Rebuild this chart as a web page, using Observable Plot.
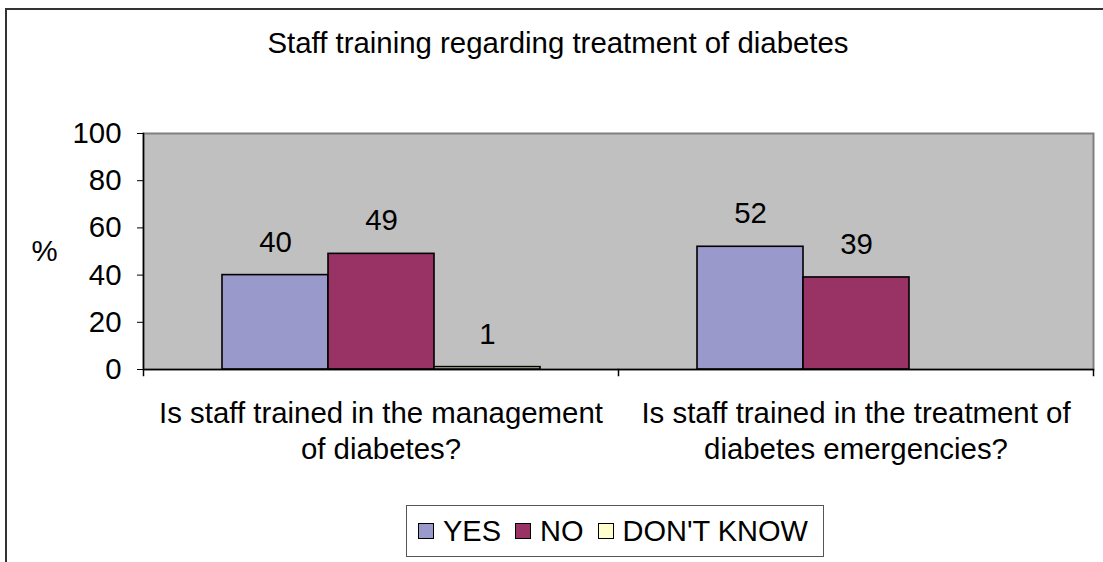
<!DOCTYPE html>
<html>
<head>
<meta charset="utf-8">
<script src="https://cdn.jsdelivr.net/npm/d3@7"></script>
<script src="https://cdn.jsdelivr.net/npm/@observablehq/plot@0.6"></script>
<style>
  html, body { margin: 0; padding: 0; background: #fff; overflow: hidden; }
  body { font-family: "Liberation Sans", Arial, sans-serif; position: relative; width: 1103px; height: 562px; }
  #outer { position: absolute; left: 5px; top: 8px; width: 2000px; height: 2000px;
           border-top: 2px solid #333; border-left: 2px solid #333; pointer-events: none; }
  #title { box-sizing: border-box; height: 100px; padding-top: 26px; margin-left: 13px;
           text-align: center; font-size: 29.4px; line-height: 34px; color: #000; }
  #chart svg { display: block; }
  #legend { box-sizing: border-box; margin-top: 25px; margin-left: 406px; width: 418px; height: 52px;
            border: 1px solid #555; display: flex; align-items: center; padding-left: 11px;
            font-size: 29px; color: #000; background: #fff; }
  .item { display: flex; align-items: center; margin-right: 14px; }
  .sw { box-sizing: border-box; width: 16px; height: 16px; border: 1.5px solid #000; margin-right: 9px; }
</style>
</head>
<body>
<div id="outer"></div>
<div id="title"></div>
<div id="chart"></div>
<div id="legend"></div>
<script>
// ---- data ----
const title = "Staff training regarding treatment of diabetes";
const categories = [
  "Is staff trained in the management\nof diabetes?",
  "Is staff trained in the treatment of\ndiabetes emergencies?"
];
const seriesNames = ["YES", "NO", "DON'T KNOW"];
const yesValues = [40, 52];
const noValues = [49, 39];
const dontKnowValues = [1, null];
const yTicks = [0, 20, 40, 60, 80, 100];
const yLabel = "%";
const seriesColors = ["#9999CC", "#993366", "#FFFFCC"];

// ---- table ----
const seriesValues = [yesValues, noValues, dontKnowValues];
const table = categories.flatMap((q, i) =>
  seriesNames.map((s, j) => ({q, s, v: seriesValues[j][i]}))
).filter(d => d.v != null);

const width = 1103, height = 380;
const marginTop = 33, marginBottom = 111, marginLeft = 143, marginRight = 10;
const plotH = height - marginTop - marginBottom;
const fs = 29.4;

document.getElementById("title").textContent = title;

const chart = Plot.plot({
  width, height, marginTop, marginBottom, marginLeft, marginRight,
  style: {fontFamily: "'Liberation Sans', Arial, sans-serif", fontSize: fs + "px", color: "#000", background: "transparent"},
  fx: {domain: categories, padding: 0, label: null},
  x: {domain: seriesNames, paddingInner: 0, paddingOuter: 0.72, axis: null},
  y: {domain: [0, 100], ticks: yTicks, tickSize: 6, tickPadding: 16, label: null},
  color: {domain: seriesNames, range: seriesColors},
  marks: [
    Plot.frame({facet: "super", fill: "#C0C0C0", stroke: "#808080", strokeWidth: 2}),
    Plot.barY(table, {fx: "q", x: "s", y: "v", fill: "s", stroke: "#000", strokeWidth: 1.6}),
    Plot.text(table, {fx: "q", x: "s", y: "v", text: d => String(d.v), dy: -33, fontSize: fs, fill: "#000"}),
    Plot.ruleY([0], {stroke: "#000", strokeWidth: 1.5}),
    Plot.frame({facet: "super", anchor: "left", stroke: "#000", strokeWidth: 1.5, insetBottom: -6}),
    Plot.frame({anchor: "right", stroke: "#000", strokeWidth: 1.5, insetTop: plotH, insetBottom: -6}),
    Plot.axisY({ticks: yTicks, tickSize: 6, tickPadding: 16, fontSize: fs, label: null, stroke: "#000"}),
    Plot.axisFx({anchor: "bottom", tickSize: 0, tickPadding: 28, fontSize: fs, lineHeight: 1.22, label: null}),
    Plot.text([yLabel], {fx: [categories[0]], frameAnchor: "left", dx: -99, textAnchor: "middle", fontSize: fs, fill: "#000"})
  ]
});
document.getElementById("chart").appendChild(chart);

const legend = document.getElementById("legend");
seriesNames.forEach((s, i) => {
  const item = document.createElement("div");
  item.className = "item";
  const sw = document.createElement("div");
  sw.className = "sw";
  sw.style.background = seriesColors[i];
  const t = document.createElement("span");
  t.textContent = s;
  item.appendChild(sw); item.appendChild(t);
  legend.appendChild(item);
});
</script>
</body>
</html>
